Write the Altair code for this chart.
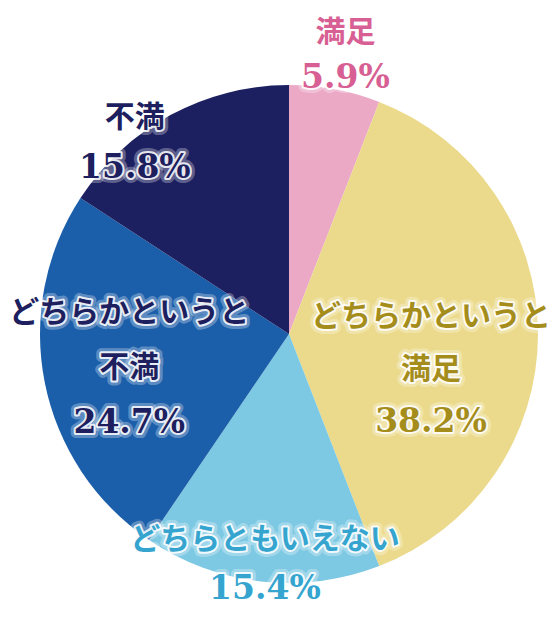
import altair as alt
import pandas as pd

# ---- data ----
categories = ["満足", "どちらかというと満足", "どちらともいえない", "どちらかというと不満", "不満"]
values = [5.9, 38.2, 15.4, 24.7, 15.8]
name_lines = [["満足"], ["どちらかというと", "満足"], ["どちらともいえない"], ["どちらかというと", "不満"], ["不満"]]

# ---- styles ----
slice_colors = ["#EBA9C6", "#EBDA8B", "#7DC8E2", "#1B5EA9", "#1D2060"]
text_colors = ["#D85F93", "#A58D1C", "#35A5CF", "#1D1F5E", "#1D1F5E"]
# (radius, dx, name_dy, pct_dy, lineHeight) per label
label_place = [
    (290, 3, -16, 29, 55),
    (145, -3, -17, 88, 53),
    (231, 2, -24, 25, 48),
    (168, 5, -54, 56, 55),
    (246, -37, 0, 50, 51),
]

CX, CY, R = 281, 326, 249
NAME_FONT = "Noto Sans CJK JP"
PCT_FONT = "DejaVu Serif"

df = pd.DataFrame({
    "category": categories,
    "value": values,
    "order": list(range(len(categories))),
    "name": ["\n".join(n) for n in name_lines],
    "pct": [f"{v:.1f}%" for v in values],
})

theta_scale = alt.Scale(domain=[0, 100])

arc = alt.Chart(df).mark_arc(radius=R).encode(
    theta=alt.Theta("value:Q", stack=True, scale=theta_scale),
    color=alt.Color("category:N", scale=alt.Scale(domain=categories, range=slice_colors), legend=None),
    order=alt.Order("order:Q"),
    x=alt.value(CX),
    y=alt.value(CY),
)

base = alt.Chart(df).transform_window(
    cum="sum(value)", sort=[alt.SortField("order")], frame=[None, 0]
).transform_calculate(mid="datum.cum - datum.value / 2")

layers = [arc]
for i, cat in enumerate(categories):
    r, dx, ndy, pdy, lh = label_place[i]
    sel = base.transform_filter(alt.datum.category == cat)
    multi = len(name_lines[i]) > 1
    for field, dy, font, size, lheight in [
        ("name", ndy, NAME_FONT, 30, lh if multi else 33),
        ("pct", pdy, PCT_FONT, 33, 36),
    ]:
        enc = dict(
            theta=alt.Theta("mid:Q", stack=None, scale=theta_scale),
            text=alt.Text(f"{field}:N"),
            x=alt.value(CX),
            y=alt.value(CY),
        )
        common = dict(radius=r, dx=dx, dy=dy, lineBreak="\n", lineHeight=lheight, font=font,
                      fontSize=size, fontWeight="bold", align="center", baseline="middle")
        glow1 = sel.mark_text(stroke="white", strokeWidth=10, strokeOpacity=0.3, strokeJoin="round",
                              fill="white", **common).encode(**enc)
        glow2 = sel.mark_text(stroke="white", strokeWidth=4, strokeOpacity=0.85, strokeJoin="round",
                              fill="white", **common).encode(**enc)
        txt = sel.mark_text(fill=text_colors[i], **common).encode(**enc)
        layers += [glow1, glow2, txt]

chart = alt.layer(*layers).properties(
    width=544, height=604, padding=0, autosize="none"
).configure_view(stroke=None)

chart.save("out.html", embed_options={"renderer": "svg", "actions": False})
